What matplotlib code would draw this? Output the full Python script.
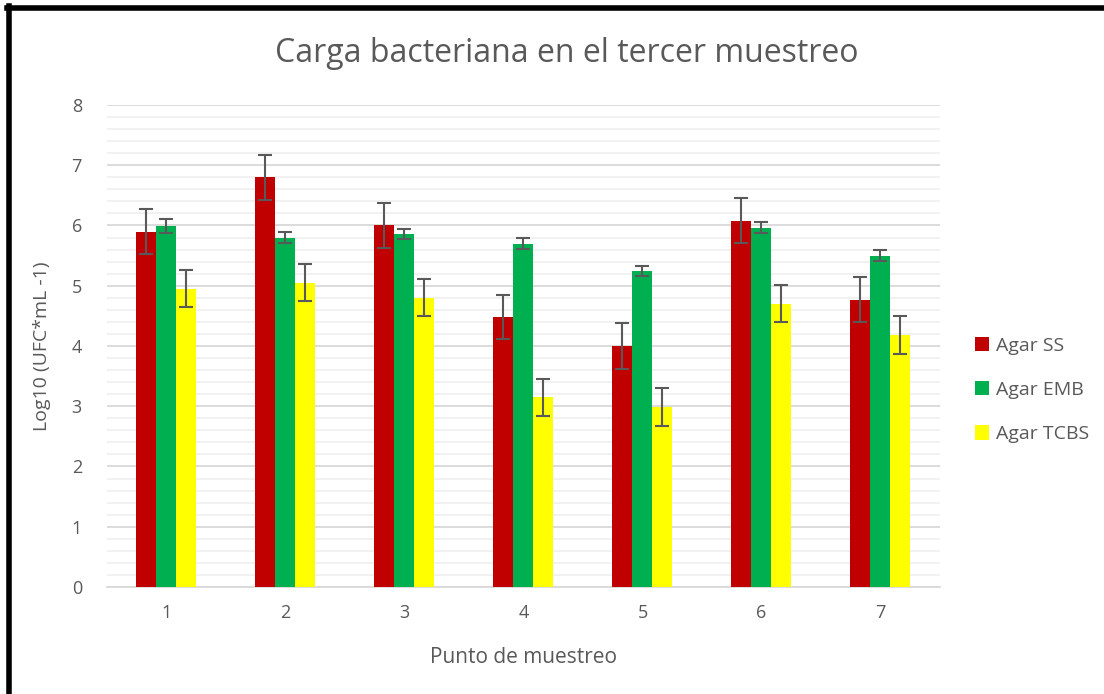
import numpy as np
import matplotlib
matplotlib.use("Agg")
import matplotlib.pyplot as plt
from matplotlib.lines import Line2D
from matplotlib.patches import Patch

plt.rcParams['font.family'] = ['Open Sans', 'DejaVu Sans']

# Data
puntos = ["1", "2", "3", "4", "5", "6", "7"]
series = ["Agar SS", "Agar EMB", "Agar TCBS"]
agar_ss = [5.90, 6.80, 6.00, 4.48, 4.00, 6.08, 4.77]
agar_emb = [5.99, 5.80, 5.86, 5.70, 5.25, 5.96, 5.50]
agar_tcbs = [4.95, 5.05, 4.80, 3.15, 2.99, 4.70, 4.18]
err_ss = [0.37, 0.37, 0.37, 0.37, 0.38, 0.37, 0.37]
err_emb = [0.11, 0.09, 0.09, 0.09, 0.08, 0.09, 0.09]
err_tcbs = [0.31, 0.31, 0.31, 0.31, 0.31, 0.31, 0.31]

colors = ["#C00000", "#00B050", "#FFFF00"]
text_col = "#595959"

fig = plt.figure(figsize=(11.04, 6.94), dpi=100)
ax = fig.add_axes([0.0969, 0.1542, 0.7545, 0.6945])

x = np.arange(1, len(puntos) + 1)
w = 0.168
vals = [agar_ss, agar_emb, agar_tcbs]
errs = [err_ss, err_emb, err_tcbs]
for i, (v, e, c) in enumerate(zip(vals, errs, colors)):
    ax.bar(x + (i - 1) * w, v, width=w, color=c, zorder=3)
    ax.errorbar(x + (i - 1) * w, v, yerr=e, fmt="none", ecolor="#595959",
                elinewidth=1.5, capsize=5, capthick=1.5, zorder=4)

ax.set_xlim(0.5, 7.5)
ax.set_ylim(0, 8)
ax.set_yticks(range(0, 9))
ax.set_yticks(np.arange(0, 8.01, 0.2), minor=True)
ax.set_xticks(x)
ax.set_xticklabels(puntos)
ax.grid(axis="y", which="major", color="#d9d9d9", linewidth=1.3, zorder=0)
ax.grid(axis="y", which="minor", color="#f0f0f0", linewidth=1.3, zorder=0)
for s in ["top", "right", "left"]:
    ax.spines[s].set_visible(False)
ax.spines["bottom"].set_color("#d9d9d9")
ax.spines["bottom"].set_linewidth(1.3)
ax.tick_params(axis="both", which="both", length=0, colors=text_col, labelsize=13)
ax.tick_params(axis="y", pad=18)
ax.tick_params(axis="x", pad=12)

fig.text(0.513, 0.923, "Carga bacteriana en el tercer muestreo", ha="center", va="center",
         fontsize=23, color=text_col)
ax.set_xlabel("Punto de muestreo", fontsize=15, color=text_col, labelpad=18)
ax.set_ylabel("Log10 (UFC*mL -1)", fontsize=14, color=text_col, labelpad=15)

handles = [Patch(facecolor=c, label=s) for c, s in zip(colors, series)]
fig.legend(handles=handles, loc="center left", bbox_to_anchor=(0.867, 0.438),
           frameon=False, fontsize=14, labelcolor=text_col, handlelength=0.75,
           handleheight=0.75, handletextpad=0.35, labelspacing=1.35)

# black frame on top and left edges
fig.add_artist(Line2D([0.0063, 1.0], [0.988, 0.988], color="black", linewidth=4))
fig.add_artist(Line2D([0.0085, 0.0085], [0.0, 0.991], color="black", linewidth=4))

fig.savefig("out.png", dpi=100)
